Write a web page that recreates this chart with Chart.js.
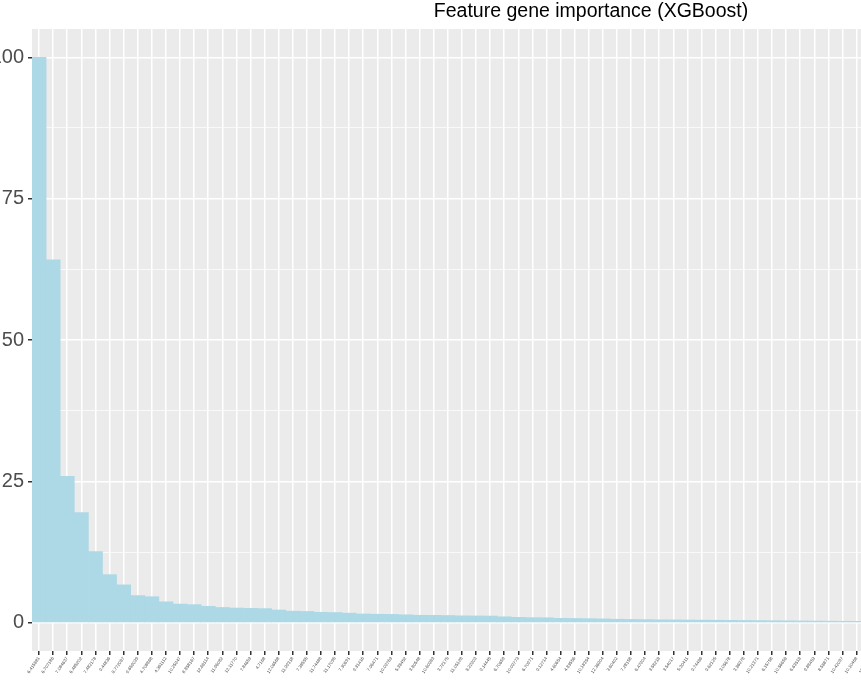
<!DOCTYPE html>
<html><head><meta charset="utf-8">
<script src="https://cdn.jsdelivr.net/npm/chart.js@4"></script>
<style>html,body{margin:0;padding:0;overflow:hidden;background:#fff;width:861px;height:695px}
#wrap{position:absolute;left:-20px;top:0;width:940px;height:695px}</style>
</head><body><div id="wrap"><canvas id="c"></canvas></div>
<script>
const genes = ["6.415881","6.707186","7.084637","6.485202","7.482178","9.44836","8.772087","9.659039","4.708868","4.361112",
"10.25947","8.858167","12.68114","11.96082","12.11770","7.84653","4.7168","12.06568","11.99318","7.38555",
"11.74488","11.17095","7.30691","9.31416","7.96471","10.09763","5.38452","3.80548","10.60983","3.72175",
"11.05128","8.22903","9.14445","6.70659","10.09773","6.70971","9.12714","4.60654","4.83556","10.18354",
"12.36904","3.60402","7.28158","6.47904","3.58218","3.54017","5.30411","9.74486","9.62125","3.05678",
"3.86978","10.21371","6.15758","10.56658","6.63518","9.88453","8.58871","10.42097","10.10468","10.41522",
"9.81247","8.44151","7.99213"];
const importance = [100,64.2,25.9,19.5,12.6,8.5,6.7,4.8,4.6,3.7,
3.3,3.2,2.9,2.7,2.6,2.55,2.5,2.25,2.05,2.0,
1.85,1.8,1.7,1.55,1.5,1.48,1.4,1.32,1.3,1.28,
1.22,1.2,1.18,1.05,0.95,0.9,0.88,0.78,0.75,0.72,
0.68,0.62,0.58,0.55,0.52,0.5,0.48,0.46,0.44,0.42,
0.4,0.38,0.36,0.34,0.32,0.3,0.28,0.26,0.25,0.24,
0.22,0.21,0.2];
const yTicks = [0,25,50,75,100];
const bg = {id:'bg',beforeDraw(ch){const a=ch.chartArea,x=ch.ctx;x.save();x.fillStyle='#ebebeb';x.fillRect(a.left,a.top,a.right-a.left,a.bottom-a.top);x.restore();},
 afterDraw(ch){const x=ch.ctx;x.save();x.fillStyle='#000';x.font='19.5px "Liberation Sans", Arial';x.textAlign='center';x.textBaseline='middle';x.fillText('Feature gene importance (XGBoost)',611,12);x.restore();}};
new Chart(document.getElementById('c'),{type:'bar',
data:{labels:genes,datasets:[{data:importance,backgroundColor:'#add8e6',barPercentage:1,categoryPercentage:1}]},
options:{responsive:true,maintainAspectRatio:false,animation:false,
 layout:{padding:{top:29,right:0,bottom:0,left:0}},
 plugins:{legend:{display:false},tooltip:{enabled:false}},
 scales:{
  x:{grid:{offset:false,color:'#ffffff',lineWidth:1.5,tickColor:'#333',tickLength:4,drawOnChartArea:true},border:{display:false},
     afterFit(s){s.height=44;},
     ticks:{autoSkip:false,minRotation:55,maxRotation:55,font:{size:4.5,family:'"Liberation Sans", Arial'},color:'#4d4d4d',padding:1}},
  y:{min:-5,max:105,afterFit(s){s.width=52;},border:{display:false},
     afterBuildTicks(s){const t=[];for(let v=0;v<=100;v+=12.5)t.push({value:v});s.ticks=t;},
     grid:{color:'#ffffff',lineWidth:c=>(c.tick&&c.tick.value%25===0)?1.5:0.7,tickColor:c=>(c.tick&&c.tick.value%25===0)?'#333':'rgba(0,0,0,0)',tickLength:4},
     ticks:{color:'#4d4d4d',font:{size:20,family:'"Liberation Sans", Arial'},padding:4,callback:v=>yTicks.includes(v)?String(v):''}}
 }},plugins:[bg]});
</script></body></html>
